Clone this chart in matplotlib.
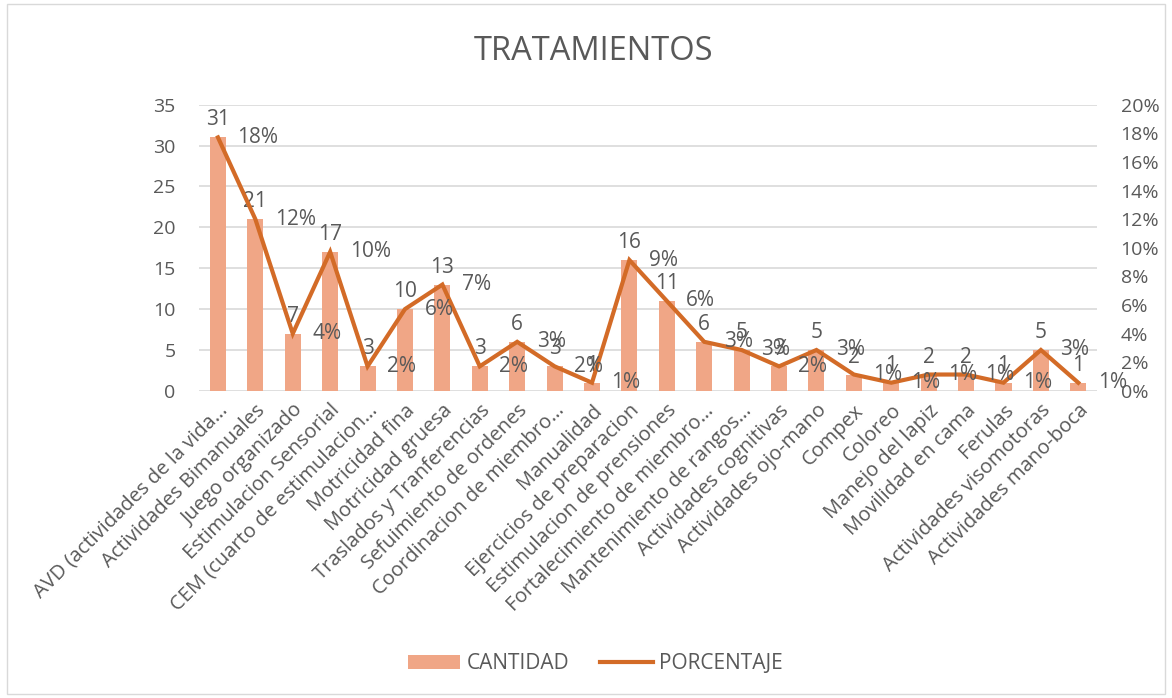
import matplotlib.pyplot as plt
from matplotlib.patches import Rectangle
from matplotlib.ticker import FuncFormatter

plt.rcParams['font.family'] = ['Open Sans', 'DejaVu Sans']

categorias = [
    "AVD (actividades de la vida…", "Actividades Bimanuales", "Juego organizado",
    "Estimulacion Sensorial", "CEM (cuarto de estimulacion…", "Motricidad fina",
    "Motricidad gruesa", "Traslados y Tranferencias", "Sefuimiento de ordenes",
    "Coordinacion de miembro…", "Manualidad", "Ejercicios de preparacion",
    "Estimulacion de prensiones", "Fortalecimiento de miembro…",
    "Mantenimiento de rangos…", "Actividades cognitivas", "Actividades ojo-mano",
    "Compex", "Coloreo", "Manejo del lapiz", "Movilidad en cama", "Ferulas",
    "Actividades visomotoras", "Actividades mano-boca",
]
cantidad = [31, 21, 7, 17, 3, 10, 13, 3, 6, 3, 1, 16, 11, 6, 5, 3, 5, 2, 1, 2, 2, 1, 5, 1]
total = sum(cantidad)
porcentaje = [c / total for c in cantidad]

gris = '#595959'
color_barra = '#F0A686'
color_linea = '#D36B27'

fig = plt.figure(figsize=(11.72, 6.98), dpi=100)
ax = fig.add_axes([0.170, 0.440, 0.766, 0.410])
ax2 = ax.twinx()

x = list(range(len(categorias)))
barras = ax.bar(x, cantidad, width=0.43, color=color_barra, label='CANTIDAD', zorder=2)
linea, = ax2.plot(x, porcentaje, color=color_linea, linewidth=3, label='PORCENTAJE',
                  solid_joinstyle='miter', zorder=3)

ax.set_ylim(0, 35)
ax.set_yticks(range(0, 36, 5))
ax2.set_ylim(0, 0.20)
ax2.set_yticks([i / 100 for i in range(0, 21, 2)])
ax2.yaxis.set_major_formatter(FuncFormatter(lambda v, p: f"{v * 100:.0f}%"))
ax.set_xlim(-0.5, len(categorias) - 0.5)

ax.yaxis.grid(True, color='#D9D9D9', linewidth=1.2, zorder=0)
ax.set_axisbelow(True)
ax2.set_zorder(ax.get_zorder() + 1)
ax2.patch.set_visible(False)

for a in (ax, ax2):
    for s in a.spines.values():
        s.set_visible(False)
    a.tick_params(length=0, labelsize=14, labelcolor=gris)
ax.tick_params(axis='y', pad=17)
ax2.tick_params(axis='y', pad=17)

ax.set_xticks(x)
ax.set_xticklabels(categorias, rotation=45, ha='right', va='top',
                   rotation_mode='anchor', fontsize=14.5, color=gris)
ax.tick_params(axis='x', pad=7)

# etiquetas de cantidad encima de las barras
for xi, c in zip(x, cantidad):
    ax.annotate(str(c), (xi, c), xytext=(0, 5), textcoords='offset points',
                ha='center', va='bottom', fontsize=15, color=gris, zorder=5)

# etiquetas de porcentaje a la derecha del punto
for xi, p in zip(x, porcentaje):
    ax2.annotate(f"{p * 100:.0f}%", (xi, p), xytext=(14, 0), textcoords='offset points',
                 ha='left', va='center', fontsize=15, color=gris, zorder=5)

fig.text(0.506, 0.926, 'TRATAMIENTOS', ha='center', va='center', fontsize=23.5, color=gris)

fig.legend(handles=[barras, linea], loc='center', bbox_to_anchor=(0.508, 0.049),
           ncol=2, frameon=False, fontsize=15, labelcolor=gris,
           handlelength=2.5, handleheight=0.7, handletextpad=0.3, columnspacing=1.5)

fig.patches.append(Rectangle((0.006, 0.006), 0.988, 0.988, transform=fig.transFigure,
                             fill=False, edgecolor='#D9D9D9', linewidth=1))

fig.savefig('out.png', dpi=100)
